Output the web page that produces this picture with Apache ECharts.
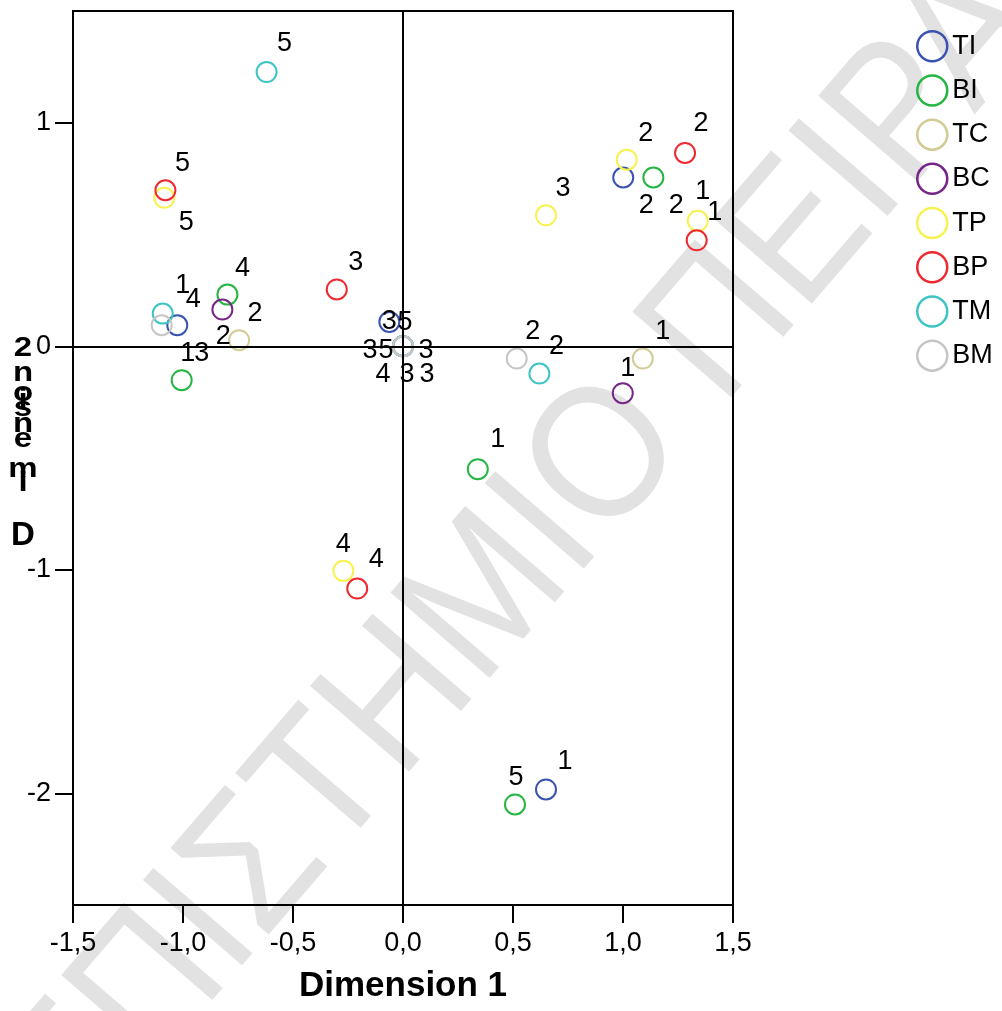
<!DOCTYPE html>
<html>
<head>
<meta charset="utf-8">
<script src="https://cdn.jsdelivr.net/npm/echarts@6/dist/echarts.min.js"></script>
<style>html,body{margin:0;padding:0;background:#fff;}#chart{width:1002px;height:1011px;}</style>
</head>
<body>
<div id="chart"></div>
<script>
// ---- data ----
const seriesNames = ['TI', 'BI', 'TC', 'BC', 'TP', 'BP', 'TM', 'BM'];
const seriesColors = ['#3a52b0', '#25b541', '#d2cb95', '#752687', '#f8f250', '#ee2a30', '#3ec4c6', '#c6c6c6'];

const tiX = [1.001, -1.026, 0.65, -0.062, 0.0];
const tiY = [0.755, 0.094, -1.983, 0.109, 0.0];
const tiLab = ['2', '4', '1', '3', '5'];

const biX = [1.138, -0.798, -1.006, 0.34, 0.509];
const biY = [0.755, 0.231, -0.152, -0.55, -2.05];
const biLab = ['2', '4', '3', '1', '5'];

const tcX = [-0.745, 1.09, 0.0];
const tcY = [0.027, -0.055, 0.0];
const tcLab = ['2', '1', '3'];

const bcX = [-0.821, 0.999, 0.0];
const bcY = [0.164, -0.21, 0.0];
const bcLab = ['2', '1', '3'];

const tpX = [-1.085, 1.017, 0.65, 1.34, -0.271];
const tpY = [0.664, 0.835, 0.586, 0.561, -1.005];
const tpLab = ['5', '2', '3', '1', '4'];

const bpX = [-1.08, 1.282, 1.335, -0.301, -0.208];
const bpY = [0.698, 0.865, 0.474, 0.254, -1.084];
const bpLab = ['5', '2', '1', '3', '4'];

const tmX = [-0.62, -1.092, 0.62, 0.0, 0.0];
const tmY = [1.227, 0.146, -0.122, 0.0, 0.0];
const tmLab = ['5', '1', '2', '3', '4'];

const bmX = [-1.097, 0.517, 0.0, 0.0];
const bmY = [0.094, -0.055, 0.0, 0.0];
const bmLab = ['1', '2', '3', '5'];

const yTickValues = [-2, -1, 0, 1];

// label placement (pixel offsets of each point label from its marker)
const labelOffsets = {
  TI: [[23, 28], [16, -26], [19, -28], [0, 0], [2, -24]],
  BI: [[23, 28], [15, -26], [20, -27], [20, -30], [1, -27]],
  TC: [[16, -27], [20, -27], [-33, 4]],
  BC: [[1, 27], [5, -25], [23, 4]],
  TP: [[22, 25], [19, -26], [17, -27], [5, -29], [0, -26]],
  BP: [[17, -27], [16, -29], [18, -28], [19, -27], [19, -29]],
  TM: [[18, -28], [20, -28], [17, -27], [4, 28], [-20, 28]],
  BM: [[26, 28], [16, -27], [24, 28], [-17, 4]]
};

const seriesData = {
  TI: [tiX, tiY, tiLab], BI: [biX, biY, biLab], TC: [tcX, tcY, tcLab], BC: [bcX, bcY, bcLab],
  TP: [tpX, tpY, tpLab], BP: [bpX, bpY, bpLab], TM: [tmX, tmY, tmLab], BM: [bmX, bmY, bmLab]
};

const FONT = "'Liberation Sans', Arial, sans-serif";

const chart = echarts.init(document.getElementById('chart'), null, {renderer: 'canvas'});

const series = seriesNames.map((name, si) => {
  const [xs, ys, labs] = seriesData[name];
  const offs = labelOffsets[name];
  const s = {
    name: name,
    type: 'scatter',
    symbol: 'circle',
    symbolSize: 20,
    itemStyle: {color: 'rgba(255,255,255,0)', borderColor: seriesColors[si], borderWidth: 2, opacity: 1},
    emphasis: {disabled: true},
    label: {
      show: true, position: 'inside', color: '#000', fontSize: 27, fontFamily: FONT,
      formatter: p => p.data.lab
    },
    data: xs.map((x, i) => ({value: [x, ys[i]], lab: labs[i], label: {offset: offs[i]}}))
  };
  if (si === 0) {
    s.markLine = {
      silent: true, symbol: ['none', 'none'], animation: false,
      label: {show: false},
      lineStyle: {color: '#000', width: 2, type: 'solid', opacity: 1},
      data: [{xAxis: 0}, {yAxis: 0}]
    };
  }
  return s;
});

// stacked vertical axis title (as in the reference)
const yTitleChars = ['2', 'n', 'o', 'i', 's', 'n', 'e', 'm', 'i', 'D'];
const yTitleY = [349, 374, 394, 401, 409, 425, 440, 470, 484, 536];
const yTitle = yTitleChars.map((c, i) => ({
  type: 'text', x: 23, y: yTitleY[i], z: 10, scaleY: c === 'D' ? 1 : 0.82,
  style: {text: c, font: "bold 33px " + FONT, fill: '#000', textAlign: 'center', textVerticalAlign: 'middle'}
}));

const option = {
  animation: false,
  backgroundColor: '#ffffff',
  grid: {left: 73, top: 11, width: 660, height: 894, show: true, borderColor: '#000', borderWidth: 2, backgroundColor: 'rgba(0,0,0,0)'},
  xAxis: {
    type: 'value', min: -1.5, max: 1.5, interval: 0.5,
    axisLine: {show: true, onZero: false, lineStyle: {color: '#000', width: 2}},
    axisTick: {show: true, length: 18, lineStyle: {color: '#000', width: 2}},
    splitLine: {show: false},
    axisLabel: {color: '#000', fontSize: 27, fontFamily: FONT, margin: 25, formatter: v => v.toFixed(1).replace('.', ',')},
    name: 'Dimension 1', nameLocation: 'middle', nameGap: 64,
    nameTextStyle: {fontSize: 35, fontWeight: 'bold', color: '#000', fontFamily: FONT}
  },
  yAxis: {
    type: 'value', min: -2.5, max: 1.5, interval: 0.5,
    axisLine: {show: true, onZero: false, lineStyle: {color: '#000', width: 2}},
    axisTick: {show: true, length: 18, customValues: yTickValues, lineStyle: {color: '#000', width: 2}},
    splitLine: {show: false},
    axisLabel: {color: '#000', fontSize: 27, fontFamily: FONT, margin: 22, customValues: yTickValues, formatter: v => String(v)}
  },
  legend: {
    orient: 'vertical', left: 916, top: 30, itemWidth: 30, itemHeight: 30, itemGap: 11.7,
    icon: 'circle', padding: 0, itemStyle: {borderWidth: 2.5},
    textStyle: {fontSize: 27, color: '#000', fontFamily: FONT},
    data: seriesNames
  },
  graphic: {
    elements: [
      {
        type: 'text', x: 497, y: 589, rotation: 0.86, scaleX: 0.9, z: -10, silent: true,
        style: {text: 'ΠΑΝΕΠΙΣΤΗΜΙΟ ΠΕΙΡΑΙΩΣ', font: "190px " + FONT, fill: '#e2e2e2', textAlign: 'center', textVerticalAlign: 'middle'}
      }
    ].concat(yTitle)
  },
  series: series
};
chart.setOption(option);
</script>
</body>
</html>
